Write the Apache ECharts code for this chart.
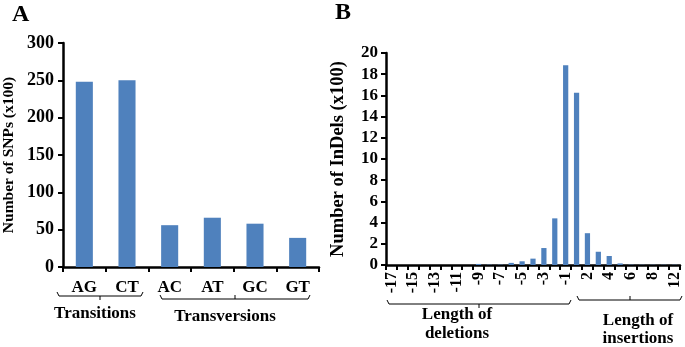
<!DOCTYPE html>
<html>
<head>
<meta charset="utf-8">
<script src="https://cdn.jsdelivr.net/npm/echarts@6/dist/echarts.min.js"></script>
<style>
  html, body { margin: 0; padding: 0; background: #fff; }
  #chart { width: 685px; height: 347px; }
</style>
</head>
<body>
<div id="chart"></div>
<script>
// Panel A: SNP types
const snpTypes = ['AG', 'CT', 'AC', 'AT', 'GC', 'GT'];
const snpCounts = [248, 250, 56, 66, 58, 39];
const snpTicks = [0, 50, 100, 150, 200, 250, 300];

// Panel B: InDel lengths
const indelLengths = ['-17', '-16', '-15', '-14', '-13', '-12', '-11', '-10', '-9', '-8',
  '-7', '-6', '-5', '-4', '-3', '-2', '-1', '1', '2', '3', '4', '5', '6', '7', '8', '10', '12'];
const indelCounts = [0, 0, 0, 0, 0, 0, 0, 0, 0.1, 0.03, 0.03, 0.2, 0.35, 0.6, 1.6, 4.4,
  18.85, 16.25, 3.0, 1.25, 0.85, 0.15, 0.03, 0.02, 0.02, 0.02, 0.02];

const font = 'Liberation Serif';
const barColor = '#4F81BD';

const chart = echarts.init(document.getElementById('chart'));

const axisLine = { show: true, lineStyle: { color: '#000', width: 2.5 } };
const axisTick = { show: true, lineStyle: { color: '#000', width: 2 }, length: 5 };

// bracket under a group of labels: ends curl up, small tick in the middle
function bracket(x1, x2, y) {
  return {
    type: 'polyline',
    shape: { points: [[x1, y - 4], [x1 + 2, y], [x2 - 2, y], [x2, y - 4]] },
    style: { stroke: '#000', lineWidth: 1, fill: null }
  };
}
function midTick(x, y, dir) {
  return {
    type: 'line',
    shape: { x1: x, y1: y, x2: x, y2: y + dir * 4 },
    style: { stroke: '#000', lineWidth: 1 }
  };
}
function txt(x, y, s, size) {
  return {
    type: 'text', x: x, y: y,
    style: { text: s, font: 'bold ' + size + 'px ' + font, fill: '#000', textAlign: 'center', textVerticalAlign: 'middle' }
  };
}

const option = {
  animation: false,
  textStyle: { fontFamily: font },
  grid: [
    { left: 60, top: 43, width: 259, height: 224 },
    { left: 386, top: 53, width: 294, height: 212 }
  ],
  xAxis: [
    {
      type: 'category', gridIndex: 0, data: snpTypes,
      axisLine: axisLine, axisTick: axisTick,
      axisLabel: { color: '#000', fontWeight: 'bold', fontSize: 17, fontFamily: font, margin: 12 }
    },
    {
      type: 'category', gridIndex: 1, data: indelLengths,
      axisLine: axisLine, axisTick: Object.assign({}, axisTick, { interval: 0 }),
      axisLabel: { color: '#000', fontWeight: 'bold', fontSize: 16, fontFamily: font, rotate: 90, interval: 1, margin: 7 }
    }
  ],
  yAxis: [
    {
      type: 'value', gridIndex: 0, min: snpTicks[0], max: snpTicks[snpTicks.length - 1], interval: 50,
      name: 'Number of SNPs (x100)', nameLocation: 'middle', nameGap: 46,
      nameTextStyle: { color: '#000', fontWeight: 'bold', fontSize: 15.5, fontFamily: font },
      axisLine: axisLine, axisTick: axisTick, splitLine: { show: false },
      axisLabel: { color: '#000', fontWeight: 'bold', fontSize: 18, fontFamily: font, margin: 9 }
    },
    {
      type: 'value', gridIndex: 1, min: 0, max: 20, interval: 2,
      name: 'Number of InDels (x100)', nameLocation: 'middle', nameGap: 38,
      nameTextStyle: { color: '#000', fontWeight: 'bold', fontSize: 18.5, fontFamily: font },
      axisLine: axisLine, axisTick: axisTick, splitLine: { show: false },
      axisLabel: { color: '#000', fontWeight: 'bold', fontSize: 17, fontFamily: font, margin: 8 }
    }
  ],
  series: [
    {
      type: 'bar', xAxisIndex: 0, yAxisIndex: 0, data: snpCounts,
      barWidth: '40%', itemStyle: { color: barColor }
    },
    {
      type: 'bar', xAxisIndex: 1, yAxisIndex: 1, data: indelCounts,
      barWidth: '48%', itemStyle: { color: barColor }
    }
  ],
  graphic: [
    { type: 'text', left: 12, top: 3, style: { text: 'A', font: 'bold 24px ' + font, fill: '#000' } },
    { type: 'text', left: 335, top: 1, style: { text: 'B', font: 'bold 24px ' + font, fill: '#000' } },
    bracket(57, 143, 296), midTick(100, 296, 1),
    txt(95, 314, 'Transitions', 17),
    bracket(160, 310, 299), midTick(235, 299, -1),
    txt(225, 317, 'Transversions', 17),
    bracket(387, 571, 304), midTick(479, 304, 1),
    txt(457, 315, 'Length of', 17),
    txt(457, 334, 'deletions', 17),
    bracket(577, 682, 300), midTick(630, 300, -1),
    txt(638, 321, 'Length of', 17),
    txt(638, 339, 'insertions', 17)
  ]
};

chart.setOption(option);
</script>
</body>
</html>
